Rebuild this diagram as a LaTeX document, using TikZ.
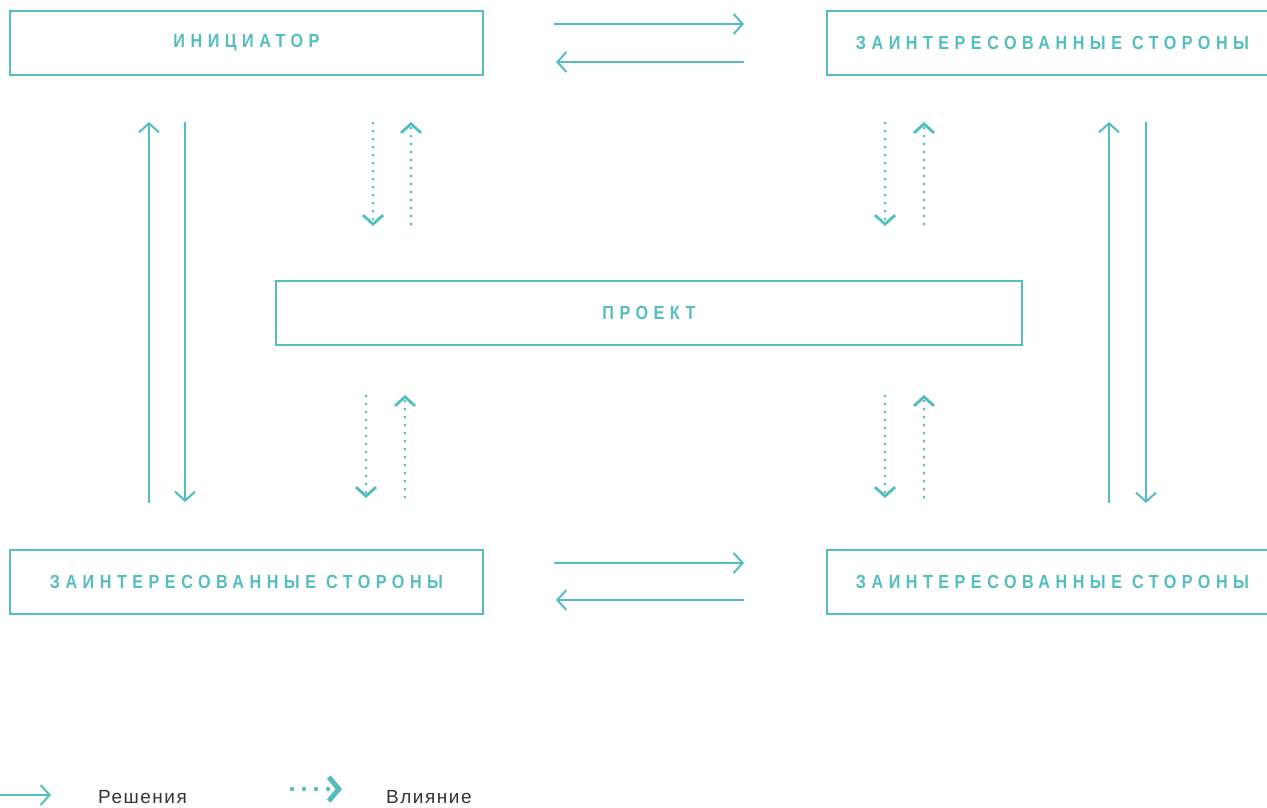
\documentclass[tikz,border=0pt]{standalone}
\usepackage{fontspec}
\setmainfont{Liberation Sans}
\newfontfamily\boxfont{Liberation Sans}[LetterSpace=29,FakeStretch=0.85]
\newfontfamily\legfont{Liberation Sans}[LetterSpace=8]
\usetikzlibrary{arrows.meta}
\definecolor{teal1}{RGB}{84,189,189}
\definecolor{gtext}{RGB}{51,51,51}
\tikzset{
  boxn/.style={draw=teal1, line width=2pt, minimum height=64pt, inner sep=0pt,
    text=teal1, font=\boxfont\bfseries\fontsize{19}{23}\selectfont},
  sol/.style={draw=teal1, line width=2pt,
    -{Straight Barb[length=9pt,width=20pt]}},
  dotarr/.style={draw=teal1, line width=3pt, line cap=round,
    dash pattern=on 0pt off 8pt,
    -{Straight Barb[length=9pt,width=20pt,line width=2.8pt]}},
  legdot/.style={draw=teal1, line width=4.5pt, line cap=round,
    dash pattern=on 0pt off 12pt,
    -{Straight Barb[length=10pt,width=24pt,line width=5pt]}},
  legtxt/.style={anchor=west, inner sep=0pt, text=gtext,
    font=\legfont\fontsize{19}{22}\selectfont},
}
\begin{document}
\begin{tikzpicture}[x=1pt,y=-1pt]
\useasboundingbox (0,0) rectangle (1267,807);
% boxes
\node[boxn, minimum width=473pt] (init) at (246.5,43) {ИНИЦИАТОР};
\node[boxn, minimum width=451pt] (sh1) at (1052.5,43) {ЗАИНТЕРЕСОВАННЫЕ СТОРОНЫ};
\node[boxn, minimum width=746pt] (proj) at (649,313) {ПРОЕКТ};
\node[boxn, minimum width=473pt] (sh2) at (246.5,581.5) {ЗАИНТЕРЕСОВАННЫЕ СТОРОНЫ};
\node[boxn, minimum width=451pt] (sh3) at (1052.5,581.5) {ЗАИНТЕРЕСОВАННЫЕ СТОРОНЫ};
% horizontal arrows top
\coordinate (t1a) at (554,24);  \coordinate (t1b) at (744,24);
\coordinate (t2a) at (744,62);  \coordinate (t2b) at (556,62);
\draw[sol] (t1a) -- (t1b);
\draw[sol] (t2a) -- (t2b);
% horizontal arrows bottom
\coordinate (b1a) at (554,563); \coordinate (b1b) at (744,563);
\coordinate (b2a) at (744,600); \coordinate (b2b) at (556,600);
\draw[sol] (b1a) -- (b1b);
\draw[sol] (b2a) -- (b2b);
% vertical solid left
\coordinate (l1a) at (149,503); \coordinate (l1b) at (149,122);
\coordinate (l2a) at (185,122); \coordinate (l2b) at (185,502);
\draw[sol] (l1a) -- (l1b);
\draw[sol] (l2a) -- (l2b);
% vertical solid right
\coordinate (r1a) at (1109,503); \coordinate (r1b) at (1109,122);
\coordinate (r2a) at (1146,122); \coordinate (r2b) at (1146,503);
\draw[sol] (r1a) -- (r1b);
\draw[sol] (r2a) -- (r2b);
% dotted top left
\coordinate (d1a) at (373,123); \coordinate (d1b) at (373,226);
\coordinate (d2a) at (411,224); \coordinate (d2b) at (411,122);
\draw[dotarr] (d1a) -- (d1b);
\draw[dotarr] (d2a) -- (d2b);
% dotted top right
\coordinate (d3a) at (885,123); \coordinate (d3b) at (885,226);
\coordinate (d4a) at (924,224); \coordinate (d4b) at (924,122);
\draw[dotarr] (d3a) -- (d3b);
\draw[dotarr] (d4a) -- (d4b);
% dotted bottom left
\coordinate (d5a) at (366,396); \coordinate (d5b) at (366,498);
\coordinate (d6a) at (405,497); \coordinate (d6b) at (405,395);
\draw[dotarr] (d5a) -- (d5b);
\draw[dotarr] (d6a) -- (d6b);
% dotted bottom right
\coordinate (d7a) at (885,396); \coordinate (d7b) at (885,498);
\coordinate (d8a) at (924,497); \coordinate (d8b) at (924,395);
\draw[dotarr] (d7a) -- (d7b);
\draw[dotarr] (d8a) -- (d8b);
% legend
\coordinate (g1a) at (0,795); \coordinate (g1b) at (51,795);
\draw[sol] (g1a) -- (g1b);
\node[legtxt] (lg1) at (98,797) {Решения};
\coordinate (g2a) at (292,789); \coordinate (g2b) at (342,789);
\draw[legdot] (g2a) -- (g2b);
\node[legtxt] (lg2) at (386,797) {Влияние};
\end{tikzpicture}
\end{document}
